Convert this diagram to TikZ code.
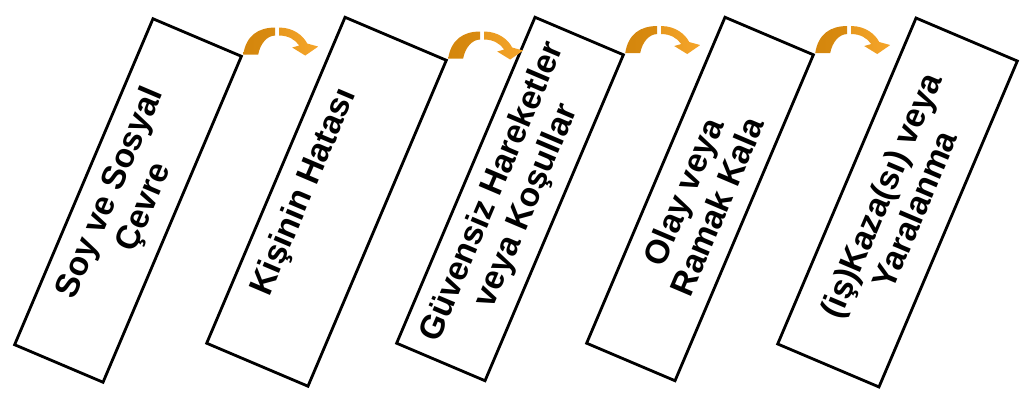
\documentclass[tikz,border=0pt]{standalone}
\usepackage{fontspec}
\setmainfont{Liberation Sans}
\usepackage{xcolor}
\usepackage{tikz}
\definecolor{DomLine}{HTML}{000000}
\definecolor{ArrDark}{HTML}{D4860C}
\definecolor{ArrLight}{HTML}{F5A52A}
\tikzset{
  domino/.style={draw=DomLine,line width=2pt,fill=white,rotate=67,inner sep=0pt,
    minimum width=8.85cm,minimum height=2.4cm,align=center,
    font=\fontsize{23.8}{26.3}\selectfont\bfseries},
  wide/.style={minimum height=2.75cm}
}
\begin{document}
\begin{tikzpicture}[x=0.025cm,y=0.025cm]
\path[use as bounding box] (0,0) rectangle (1024,401);
% the five boxes
\node[domino] (b1) at (128,200.5) {Soy ve Sosyal\\Çevre};
\node[domino,wide] (b2) at (326.5,199.25) {\raisebox{0.38cm}[0pt][0pt]{Kişinin Hatası}};
\node[domino] (b3) at (510,202) {Güvensiz Hareketler\\veya Koşullar};
\node[domino] (b4) at (700,202) {Olay veya\\Ramak Kala};
\node[domino,wide] (b5) at (897.5,198.5) {(iş)Kaza(sı) veya\\Yaralanma};
% curved arrows between the boxes
\foreach \i in {1,...,4}{
  \begin{scope}[shift={(b\i.south east)}]
    \shade[left color=ArrDark,right color=ArrDark!85!ArrLight]
      (0,1) .. controls (3,20) and (15,28) .. (32,28) -- (32,20)
      .. controls (24,20) and (17,12) .. (15,1) -- cycle;
    \shade[left color=ArrDark!40!ArrLight,right color=ArrLight]
      (36,28) .. controls (50,28) and (60,20) .. (64,12) -- (75,9) -- (62,0)
      -- (49,8) -- (56,10) .. controls (52,16) and (45,20) .. (36,20) -- cycle;
  \end{scope}
}
\end{tikzpicture}
\end{document}
